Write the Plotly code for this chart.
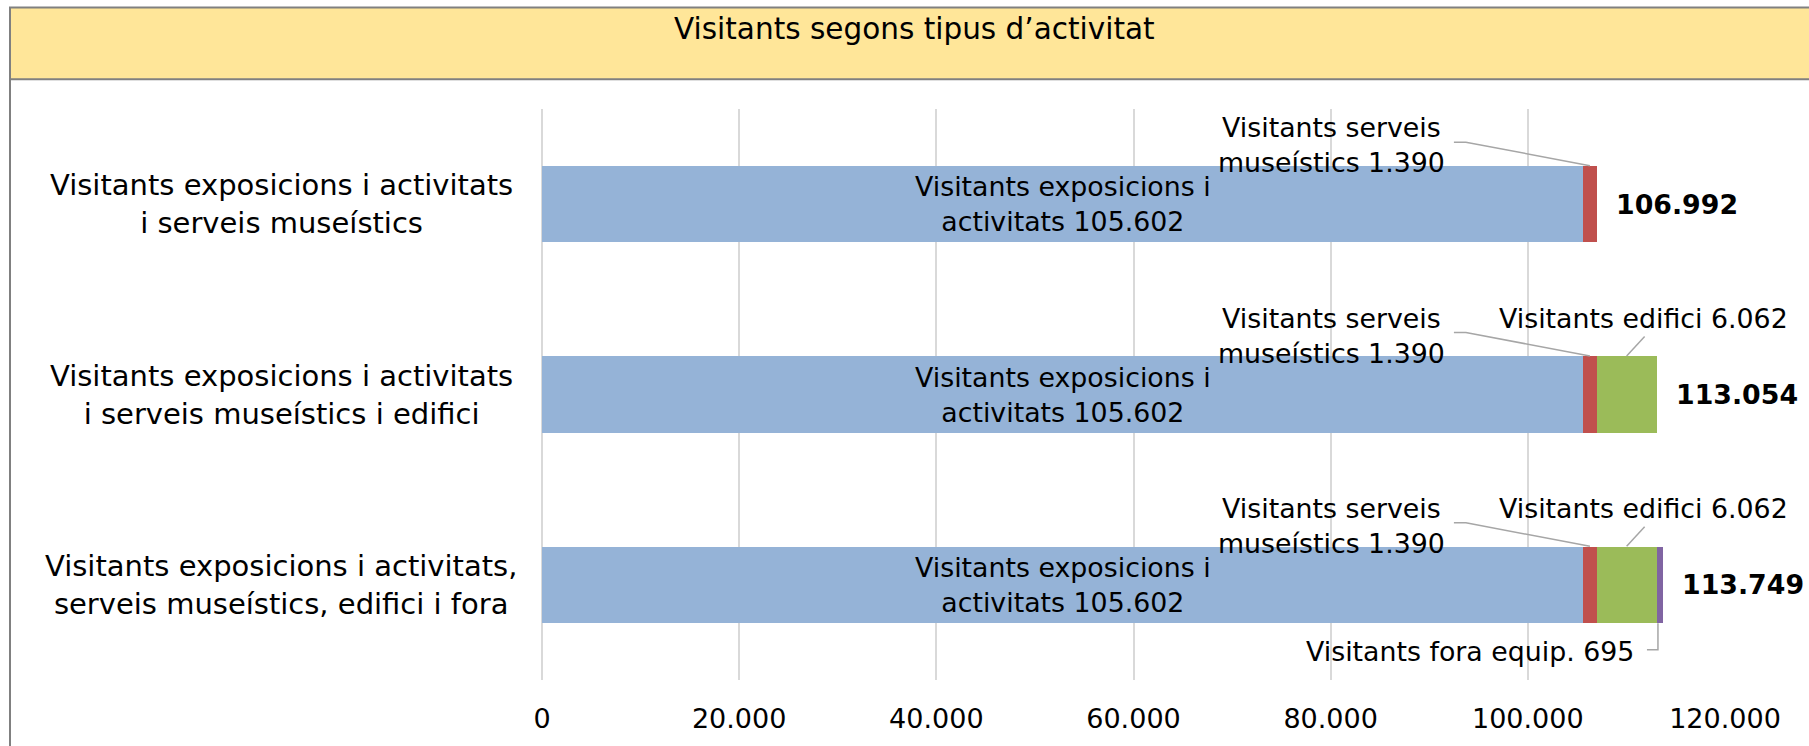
import plotly.graph_objects as go

# ---------------- data ----------------
categories = [
    "Visitants exposicions i activitats<br>i serveis museístics",
    "Visitants exposicions i activitats<br>i serveis museístics i edifici",
    "Visitants exposicions i activitats,<br>serveis museístics, edifici i fora",
]
expo = [105602, 105602, 105602]
serveis = [1390, 1390, 1390]
edifici = [None, 6062, 6062]
fora = [None, None, 695]

series_names = ["Visitants exposicions i activitats", "Visitants serveis museístics",
                "Visitants edifici", "Visitants fora equip."]
label_prefix = ["Visitants exposicions i<br>activitats", "Visitants serveis<br>museístics",
                "Visitants edifici", "Visitants fora equip."]
colors = ["#95B3D7", "#C0504D", "#9BBB59", "#8064A2"]

tick_vals = [0, 20000, 40000, 60000, 80000, 100000, 120000]
tick_labels = ["0", "20.000", "40.000", "60.000", "80.000", "100.000", "120.000"]

title_text = "Visitants segons tipus d’activitat"

# ---------------- layout constants ----------------
FIG_W, FIG_H = 1809, 746
PL, PR, PT, PB = 542, 1725, 109, 683
PW, PH = PR - PL, PB - PT
FONT = "DejaVu Sans"
LEADER = "#A6A6A6"
LBL = 26.8


def px_x(p):
    return (p - PL) / PW


def px_y(p):
    return 1 - (p - PT) / PH


def fmt(v):
    return f"{int(v):,}".replace(",", ".")


series = [expo, serveis, edifici, fora]

fig = go.Figure()
for name, vals, col in zip(series_names, series, colors):
    fig.add_trace(go.Bar(
        y=categories, x=vals, name=name, orientation="h",
        marker=dict(color=col, line=dict(width=0)),
        hoverinfo="x+name",
    ))

annotations = []
shapes = []

for i, cat in enumerate(categories):
    vals = [s[i] or 0 for s in series]
    starts = [sum(vals[:k]) for k in range(len(vals))]
    centers = [starts[k] + vals[k] / 2 for k in range(len(vals))]
    total = sum(vals)

    # blue inside label
    annotations.append(dict(
        x=centers[0], y=cat, xref="x", yref="y",
        text=f"{label_prefix[0]} {fmt(vals[0])}", showarrow=False,
        font=dict(family=FONT, size=LBL, color="black"), align="center",
        xanchor="center", yanchor="middle",
    ))
    # red label with leader
    if vals[1]:
        annotations.append(dict(
            x=centers[1], y=cat, xref="x", yref="y",
            text=f"{label_prefix[1]} {fmt(vals[1])}", showarrow=False,
            font=dict(family=FONT, size=LBL, color="black"), align="center",
            xanchor="center", yanchor="middle", xshift=-258, yshift=59,
        ))
        shapes.append(dict(
            type="path", xref="x", yref="y", xsizemode="pixel", ysizemode="pixel",
            xanchor=centers[1], yanchor=i,
            path="M -136 62 L -124 62 L 0 38.5",
            line=dict(color=LEADER, width=1.5),
        ))
    # green label with leader
    if vals[2]:
        annotations.append(dict(
            x=centers[2], y=cat, xref="x", yref="y",
            text=f"{label_prefix[2]} {fmt(vals[2])}", showarrow=False,
            font=dict(family=FONT, size=LBL, color="black"), align="center",
            xanchor="center", yanchor="middle", xshift=17, yshift=76,
        ))
        shapes.append(dict(
            type="path", xref="x", yref="y", xsizemode="pixel", ysizemode="pixel",
            xanchor=centers[2], yanchor=i,
            path="M 18 58 L 0 38.5",
            line=dict(color=LEADER, width=1.5),
        ))
    # purple label with leader (below)
    if vals[3]:
        annotations.append(dict(
            x=centers[3], y=cat, xref="x", yref="y",
            text=f"{label_prefix[3]} {fmt(vals[3])}", showarrow=False,
            font=dict(family=FONT, size=LBL, color="black"), align="right",
            xanchor="right", yanchor="middle", xshift=-24, yshift=-67,
        ))
        shapes.append(dict(
            type="path", xref="x", yref="y", xsizemode="pixel", ysizemode="pixel",
            xanchor=centers[3], yanchor=i,
            path="M -13 -65 L -2 -65 L -2 -38.5",
            line=dict(color=LEADER, width=1.5),
        ))
    # total label
    annotations.append(dict(
        x=total, y=cat, xref="x", yref="y",
        text=f"<b>{fmt(total)}</b>", showarrow=False,
        font=dict(family=FONT, size=LBL, color="black"),
        xanchor="left", yanchor="middle", xshift=17,
    ))
    # category label (centered lines)
    annotations.append(dict(
        x=px_x(281), y=cat, xref="paper", yref="y",
        text=cat, showarrow=False, align="center",
        font=dict(family=FONT, size=29, color="black"),
        xanchor="center", yanchor="middle",
    ))

# title band
shapes.append(dict(
    type="rect", xref="paper", yref="paper", layer="below",
    x0=px_x(10), x1=px_x(1815), y0=px_y(79), y1=px_y(7),
    fillcolor="#FFE699", line=dict(color="#808080", width=2),
))
shapes.append(dict(
    type="line", xref="paper", yref="paper",
    x0=px_x(10), x1=px_x(10), y0=px_y(79), y1=px_y(760),
    line=dict(color="#808080", width=2),
))
annotations.append(dict(
    x=px_x(914), y=px_y(29), xref="paper", yref="paper",
    text=title_text, showarrow=False,
    font=dict(family=FONT, size=29.5, color="black"),
    xanchor="center", yanchor="middle",
))

fig.update_layout(
    width=FIG_W, height=FIG_H,
    margin=dict(l=PL, r=FIG_W - PR, t=PT, b=FIG_H - PB, pad=0),
    barmode="stack", bargap=0.6,
    showlegend=False,
    plot_bgcolor="white", paper_bgcolor="white",
    font=dict(family=FONT, size=26, color="black"),
    annotations=annotations, shapes=shapes,
    xaxis=dict(
        range=[0, 120000], tickvals=tick_vals, ticktext=tick_labels,
        showgrid=True, gridcolor="#D9D9D9", gridwidth=2,
        zeroline=True, zerolinecolor="#D9D9D9", zerolinewidth=2,
        showline=False, ticks="", ticklabelstandoff=20,
        tickfont=dict(family=FONT, size=27, color="black"),
        fixedrange=True,
    ),
    yaxis=dict(
        type="category", autorange="reversed", showticklabels=False,
        showgrid=False, zeroline=False, showline=False, ticks="",
        fixedrange=True,
    ),
)

fig.write_html("out.html", config={"displayModeBar": False},
               post_script="document.body.style.margin='0';")
